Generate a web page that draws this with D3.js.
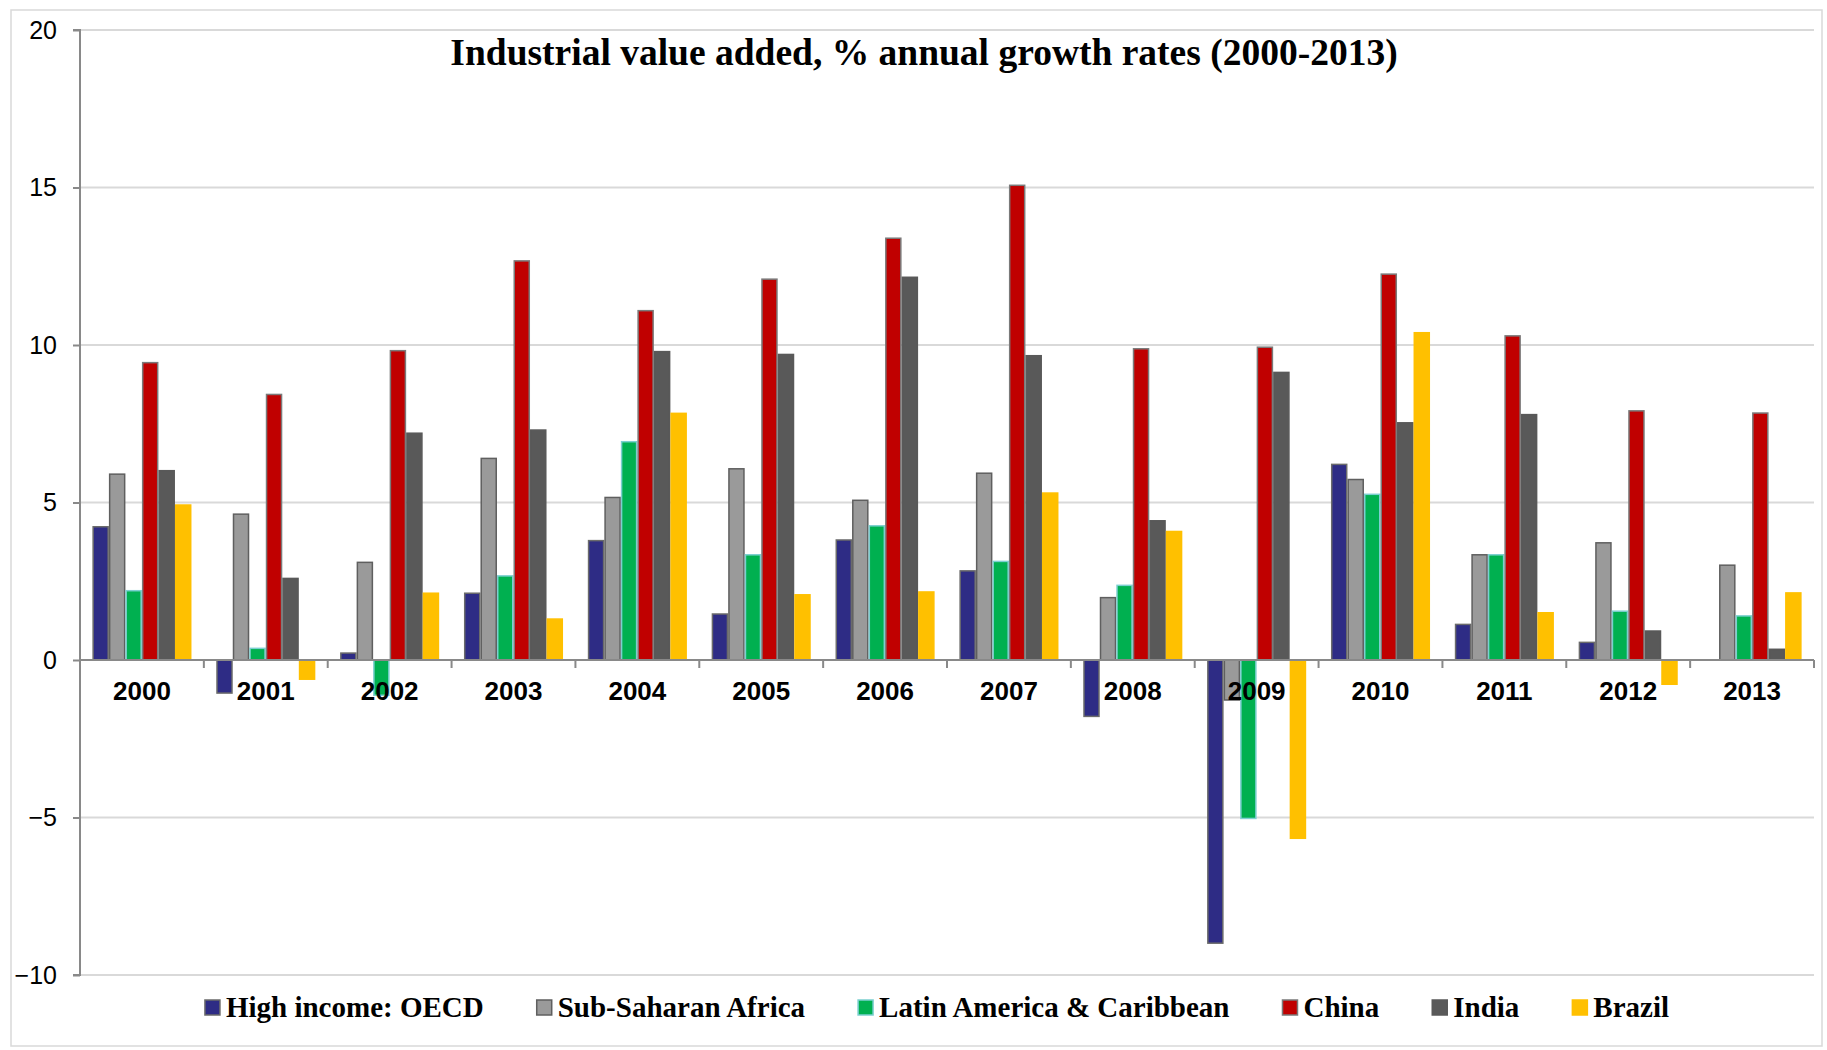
<!DOCTYPE html>
<html>
<head>
<meta charset="utf-8">
<script src="https://cdn.jsdelivr.net/npm/d3@7"></script>
<style>
  html, body { margin: 0; padding: 0; background: #fff; }
  svg { display: block; }
</style>
</head>
<body>
<svg id="chart" width="1827" height="1050"></svg>
<script>
// Industrial value added, % annual growth rates, 2000-2013
const years = ["2000","2001","2002","2003","2004","2005","2006","2007","2008","2009","2010","2011","2012","2013"];
const seriesNames = ["High income: OECD","Sub-Saharan Africa","Latin America & Caribbean","China","India","Brazil"];
const highIncome   = [4.23,-1.05,0.22,2.12,3.79,1.46,3.81,2.83,-1.79,-8.99,6.21,1.13,0.56,null];
const subSaharan   = [5.90,4.63,3.10,6.40,5.16,6.07,5.07,5.93,1.98,-1.27,5.73,3.34,3.72,3.01];
const latinAmerica = [2.20,0.37,-1.12,2.67,6.93,3.34,4.26,3.13,2.37,-5.03,5.26,3.34,1.55,1.40];
const china        = [9.44,8.43,9.82,12.67,11.09,12.09,13.39,15.07,9.88,9.93,12.25,10.29,7.91,7.84];
const india        = [6.01,2.59,7.20,7.30,9.79,9.70,12.15,9.66,4.42,9.13,7.53,7.79,0.92,0.34];
const brazil       = [4.92,-0.61,2.12,1.30,7.83,2.07,2.16,5.30,4.08,-5.66,10.39,1.50,-0.77,2.13];
const yTicks = [-10,-5,0,5,10,15,20];

const seriesValues = [highIncome, subSaharan, latinAmerica, china, india, brazil];
const fills   = ["#2E2C85","#9A9A9A","#00B050","#C00000","#595959","#FFC000"];
const strokes = ["#6b6b6b","#5f5f5f","#7ccfd0","#7a7a7a","#595959","#FFC000"];

const svg = d3.select("#chart");
const plotLeft = 80, plotRight = 1814, plotTop = 30, plotBottom = 975;

// outer chart frame
svg.append("rect")
  .attr("x", 11).attr("y", 10).attr("width", 1811).attr("height", 1036)
  .attr("fill", "none").attr("stroke", "#d9d9d9").attr("stroke-width", 1.5);

const y = d3.scaleLinear().domain([-10, 20]).range([plotBottom, plotTop]);
const x0 = d3.scaleBand().domain(years).range([plotLeft, plotRight])
  .paddingInner(0.2).paddingOuter(0.1);
const x1 = d3.scaleBand().domain(seriesNames).range([0, x0.bandwidth()]).padding(0);

// horizontal gridlines
svg.append("g").selectAll("line")
  .data(yTicks.filter(d => d !== 0))
  .join("line")
  .attr("x1", plotLeft).attr("x2", plotRight)
  .attr("y1", d => y(d)).attr("y2", d => y(d))
  .attr("stroke", "#d9d9d9").attr("stroke-width", 2);

// bars
const rows = years.map((yr, i) => ({ year: yr, vals: seriesValues.map((s, k) => ({ k, name: seriesNames[k], v: s[i] })) }));
svg.append("g").selectAll("g")
  .data(rows)
  .join("g")
  .attr("transform", d => `translate(${x0(d.year)},0)`)
  .selectAll("rect")
  .data(d => d.vals.filter(e => e.v !== null))
  .join("rect")
  .attr("x", d => x1(d.name) + 0.75)
  .attr("width", x1.bandwidth() - 1.5)
  .attr("y", d => Math.min(y(d.v), y(0)))
  .attr("height", d => Math.abs(y(d.v) - y(0)))
  .attr("fill", d => fills[d.k])
  .attr("stroke", d => strokes[d.k])
  .attr("stroke-width", 1.5);

// y axis
const yAxis = svg.append("g")
  .attr("transform", `translate(${plotLeft},0)`)
  .call(d3.axisLeft(y).tickValues(yTicks).tickSize(7).tickPadding(16).tickFormat(d3.format("d")));
yAxis.select(".domain").attr("stroke", "#898989").attr("stroke-width", 2)
  .attr("d", `M-7,${plotTop}H0V${plotBottom}H-7`);
yAxis.selectAll(".tick line").attr("stroke", "#898989").attr("stroke-width", 2);
yAxis.selectAll(".tick text")
  .attr("font-family", "Liberation Sans, Arial, sans-serif")
  .attr("font-size", 25).attr("fill", "#000");

// x axis along zero, with ticks between year groups
const step = x0.step();
const bounds = d3.range(years.length + 1).map(i => plotLeft + i * step);
const xAxis = svg.append("g");
xAxis.append("line")
  .attr("x1", plotLeft).attr("x2", plotRight).attr("y1", y(0)).attr("y2", y(0))
  .attr("stroke", "#898989").attr("stroke-width", 2);
xAxis.selectAll("line.tk")
  .data(bounds.slice(1))
  .join("line").attr("class", "tk")
  .attr("x1", d => d).attr("x2", d => d)
  .attr("y1", y(0)).attr("y2", y(0) + 8)
  .attr("stroke", "#898989").attr("stroke-width", 2);
xAxis.selectAll("text")
  .data(years)
  .join("text")
  .attr("x", d => x0(d) + x0.bandwidth() / 2)
  .attr("y", y(0) + 40)
  .attr("text-anchor", "middle")
  .attr("font-family", "Liberation Sans, Arial, sans-serif")
  .attr("font-weight", "bold").attr("font-size", 26)
  .text(d => d);

// title
svg.append("text")
  .attr("x", 924).attr("y", 65)
  .attr("text-anchor", "middle")
  .attr("font-family", "Liberation Serif, Times New Roman, serif")
  .attr("font-weight", "bold").attr("font-size", 37.5)
  .text("Industrial value added, % annual growth rates (2000-2013)");

// legend
const legend = svg.append("g");
const items = legend.selectAll("g")
  .data(seriesNames)
  .join("g");
items.append("rect")
  .attr("x", 0).attr("y", 1000).attr("width", 15).attr("height", 15)
  .attr("fill", (d, i) => fills[i])
  .attr("stroke", (d, i) => strokes[i]).attr("stroke-width", 1.5);
items.append("text")
  .attr("x", 21).attr("y", 1017)
  .attr("font-family", "Liberation Serif, Times New Roman, serif")
  .attr("font-weight", "bold").attr("font-size", 29)
  .text(d => d);
const widths = [];
items.each(function() { widths.push(21 + d3.select(this).select("text").node().getComputedTextLength()); });
const gap = 53;
const total = d3.sum(widths) + gap * (widths.length - 1);
let cx = 937 - total / 2;
items.attr("transform", (d, i) => {
  const t = `translate(${cx},0)`;
  cx += widths[i] + gap;
  return t;
});
</script>
</body>
</html>
